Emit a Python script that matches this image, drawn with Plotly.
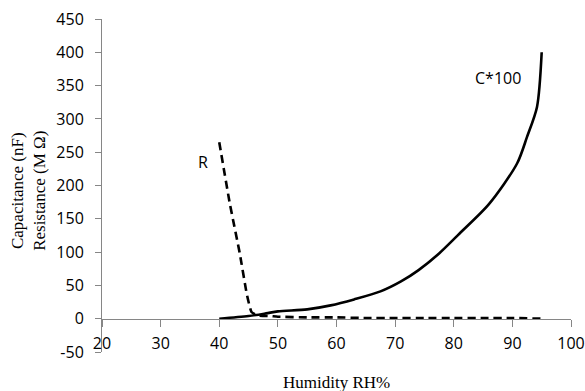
import plotly.graph_objects as go

# Data
humidity_c = [40, 45, 48, 50, 55, 59, 63, 67.5, 71, 74, 77.5, 81, 86, 90.8, 92.5, 94.2, 95]
capacitance_x100 = [0, 4, 8, 11, 14, 20, 29, 41, 56, 73, 98, 128, 172, 233, 273, 318, 400]

humidity_r = [40, 41.8, 43.5, 44.7, 45.5, 46.5, 48.7, 50, 55, 60, 65, 70, 75, 80, 85, 90, 95]
resistance = [265, 173, 98, 37, 10, 5, 4, 3, 2, 2, 1, 1, 1, 1, 1, 1, 0]

x_ticks = [20, 30, 40, 50, 60, 70, 80, 90, 100]
y_ticks = [-50, 0, 50, 100, 150, 200, 250, 300, 350, 400, 450]
y_tick_text = ["-50", "0", "50", "100", "150", "200", "250", "300", "350", "400", "450"]

axis_grey = "#868686"
tick_font = dict(family="Open Sans", size=16, color="#000000")
serif_font = dict(family="Liberation Serif", size=17, color="#000000")

fig = go.Figure()
fig.add_trace(go.Scatter(x=humidity_c, y=capacitance_x100, mode="lines",
                         line=dict(color="black", width=2.6, shape="spline", smoothing=0.8),
                         showlegend=False, hoverinfo="skip"))
fig.add_trace(go.Scatter(x=humidity_r, y=resistance, mode="lines",
                         line=dict(color="black", width=2.6, dash="8px,5px", shape="spline", smoothing=0.4),
                         showlegend=False, hoverinfo="skip"))

fig.update_layout(
    width=585, height=391,
    margin=dict(l=102, r=14, t=19, b=39, autoexpand=False),
    paper_bgcolor="white", plot_bgcolor="white",
    xaxis=dict(range=[20, 100], tickvals=x_ticks, anchor="free", position=0.1,
               showline=True, linecolor=axis_grey, linewidth=1,
               ticks="outside", ticklen=7, tickcolor=axis_grey,
               showgrid=False, zeroline=False, tickfont=tick_font,
               ticklabelstandoff=3, automargin=False, ticklabeloverflow="allow"),
    yaxis=dict(range=[-50, 450], tickvals=y_ticks, ticktext=y_tick_text,
               showline=True, linecolor=axis_grey, linewidth=1,
               ticks="outside", ticklen=6, tickcolor=axis_grey,
               showgrid=False, zeroline=False, tickfont=tick_font,
               ticklabelstandoff=8, automargin=False, ticklabeloverflow="allow"),
    annotations=[
        dict(text="Capacitance (nF)<br>Resistance (M Ω)", xref="paper", yref="paper",
             x=-0.157, y=0.5, yshift=-5, textangle=-90, showarrow=False, font=serif_font,
             xanchor="center", yanchor="middle"),
        dict(text="Humidity RH%", xref="paper", yref="paper", x=0.5, y=0, yshift=-30,
             showarrow=False, font=serif_font, xanchor="center", yanchor="middle"),
        dict(text="R", x=37.2, y=235, showarrow=False, font=tick_font),
        dict(text="C*100", x=87.6, y=361, showarrow=False, font=tick_font),
    ],
)

# remove the default page margin so the 585x391 figure sits at the window's corner
fig.write_html("out.html", config={"displayModeBar": False},
               post_script="document.body.style.margin='0px';document.body.style.overflow='hidden';")
